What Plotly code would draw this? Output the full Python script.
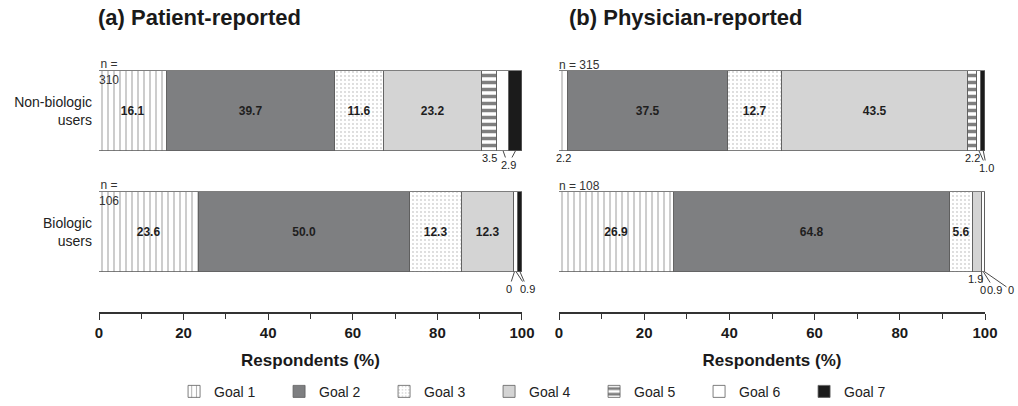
import plotly.graph_objects as go

# ---- data -------------------------------------------------------------
GOALS = ["Goal 1", "Goal 2", "Goal 3", "Goal 4", "Goal 5", "Goal 6", "Goal 7"]
GROUP_LABELS = ["Biologic<br>users", "Non-biologic<br>users"]   # y = 0, 1

PATIENT_NONBIO = [16.1, 39.7, 11.6, 23.2, 3.5, 2.9, 2.9]
PATIENT_BIO = [23.6, 50.0, 12.3, 12.3, 0.0, 0.9, 0.9]
PHYSICIAN_NONBIO = [2.2, 37.5, 12.7, 43.5, 2.2, 1.0, 1.0]
PHYSICIAN_BIO = [26.9, 64.8, 5.6, 1.9, 0.0, 0.9, 0.0]

N_PATIENT = [106, 310]      # biologic, non-biologic
N_PHYSICIAN = [108, 315]

X_TICKS = [0, 20, 40, 60, 80, 100]
PANEL_TITLES = ["(a) Patient-reported", "(b) Physician-reported"]
AXIS_TITLE = "Respondents (%)"

# ---- styling ----------------------------------------------------------
FONT = "Arial, Liberation Sans, sans-serif"
BAR_WIDTH = 0.661
INSIDE_MIN = 5.0          # smaller segments get an outside callout

GOAL_STYLE = [
    dict(color="white", pattern=dict(shape="|", fgcolor="#666666", bgcolor="white", size=6, solidity=0.22)),
    dict(color="#7e7f81"),
    dict(color="white", pattern=dict(shape=".", fgcolor="#a0a0a0", bgcolor="white", size=4, solidity=0.16)),
    dict(color="#d4d4d4"),
    dict(color="white", pattern=dict(shape="-", fgcolor="#000000", bgcolor="white", size=7, solidity=0.5)),
    dict(color="white"),
    dict(color="#1b1b1b"),
]

panels = [
    dict(x="x", y="y", rows={1: PATIENT_NONBIO, 0: PATIENT_BIO}, n=N_PATIENT),
    dict(x="x2", y="y2", rows={1: PHYSICIAN_NONBIO, 0: PHYSICIAN_BIO}, n=N_PHYSICIAN),
]

# callouts for thin segments: (goal indices sharing a label, label x in %, label offset below bar in px, xshift)
CALLOUTS = [
    {1: [((4,), None, 0, 0), ((5, 6), 96.7, 14, 0)],
     0: [((4,), 96.9, 17, 0), ((5, 6), 101.3, 17, 0)]},
    {1: [((0,), None, 0, 0), ((4,), None, 0, 0), ((5, 6), 100.4, 17, 0)],
     0: [((3,), None, 0, -2), ((4,), 99.5, 18, 0), ((5,), 102.3, 18, 0), ((6,), 106.1, 18, 0)]},
]

fig = go.Figure()
annotations = []

for p, panel in enumerate(panels):
    ys = [1, 0]
    for g, goal in enumerate(GOALS):
        vals = [panel["rows"][y][g] for y in ys]
        style = GOAL_STYLE[g]
        marker = dict(color=style["color"], line=dict(color="#5e5e5e", width=0.8))
        if "pattern" in style:
            marker["pattern"] = style["pattern"]
        fig.add_trace(go.Bar(
            x=vals, y=ys, orientation="h", name=goal, width=BAR_WIDTH,
            marker=marker, xaxis=panel["x"], yaxis=panel["y"],
            legendgroup=goal, showlegend=(p == 0),
            text=[f"{v:.1f}" if v >= INSIDE_MIN else "" for v in vals],
            textposition="inside", insidetextanchor="middle", textangle=0,
            textfont=dict(family=FONT, size=12, color="#1e1e1e", weight="bold"),
            cliponaxis=True, hoverinfo="skip",
        ))

    # outside callouts for thin segments; segments sharing a label get one leader each,
    # with the label text drawn only once
    for y, items in CALLOUTS[p].items():
        vals = panel["rows"][y]
        starts = [sum(vals[:i]) for i in range(len(vals))]
        bottom = y - BAR_WIDTH / 2
        for goals, lx, dy, xs in items:
            label = f"{vals[goals[0]]:.1f}" if vals[goals[0]] > 0 else "0"
            for k, g in enumerate(goals):
                cx = min(starts[g] + vals[g] / 2, 100)
                if lx is None:
                    annotations.append(dict(
                        x=cx, y=bottom, xref=panel["x"], yref=panel["y"], text=label,
                        showarrow=False, yanchor="top", xshift=xs, yshift=1,
                        font=dict(family=FONT, size=11, color="#222")))
                else:
                    annotations.append(dict(
                        x=cx, y=bottom, xref=panel["x"], yref=panel["y"], text=label,
                        showarrow=True, arrowhead=0, arrowwidth=0.9, arrowcolor="#333",
                        axref=panel["x"], ax=lx, ayref="pixel", ay=dy, standoff=0,
                        font=dict(family=FONT, size=11,
                                  color="#222" if k == 0 else "rgba(0,0,0,0)")))

    # sample sizes
    for y, n in zip([0, 1], panel["n"]):
        top = y + BAR_WIDTH / 2
        if p == 0:
            annotations.append(dict(
                x=0, y=top, xref=panel["x"], yref=panel["y"], text=f"n =<br>{n}",
                showarrow=False, xanchor="left", yanchor="middle", align="center", xshift=-2,
                yshift=-1, font=dict(family=FONT, size=12, color="#333")))
        else:
            annotations.append(dict(
                x=0, y=top, xref=panel["x"], yref=panel["y"], text=f"n = {n}",
                showarrow=False, xanchor="left", yanchor="bottom", xshift=-2, yshift=-3,
                font=dict(family=FONT, size=12, color="#333")))

# panel titles
for title, px in zip(PANEL_TITLES, [-0.003, 0.528]):
    annotations.append(dict(
        x=px, y=1.046, xref="paper", yref="paper", text=f"<b>{title}</b>",
        showarrow=False, xanchor="left", yanchor="middle",
        font=dict(family=FONT, size=22, color="#1a1a1a")))

xaxis_common = dict(
    range=[0, 100], tickvals=X_TICKS, ticks="outside", ticklen=6, tickwidth=1.3,
    tickcolor="#333", showline=True, linecolor="#333", linewidth=1.5,
    showgrid=False, zeroline=False, fixedrange=True,
    minor=dict(dtick=10, ticks="outside", ticklen=5, tickcolor="#333", tickwidth=1.3, showgrid=False),
    tickfont=dict(family=FONT, size=15, color="#1a1a1a", weight="bold"),
    title=dict(text=AXIS_TITLE, standoff=14,
               font=dict(family=FONT, size=17, color="#1a1a1a", weight="bold")),
)
yaxis_common = dict(range=[-0.661, 1.669], showgrid=False, zeroline=False, showline=False,
                    fixedrange=True)

fig.update_layout(
    width=1018, height=406, autosize=False,
    margin=dict(l=99, r=33, t=30, b=94, autoexpand=False),
    paper_bgcolor="white", plot_bgcolor="white",
    barmode="stack", bargap=0,
    font=dict(family=FONT, size=13, color="#222"),
    xaxis=dict(domain=[0, 0.4774], anchor="y", **xaxis_common),
    xaxis2=dict(domain=[0.5192, 1], anchor="y2", **xaxis_common),
    yaxis=dict(domain=[0, 1], anchor="x", tickvals=[0, 1], ticktext=GROUP_LABELS,
               ticks="", ticklabelstandoff=6,
               tickfont=dict(family=FONT, size=14, color="#222"), **yaxis_common),
    yaxis2=dict(domain=[0, 1], anchor="x2", showticklabels=False, **yaxis_common),
    annotations=annotations,
    uniformtext=dict(minsize=12, mode="show"),
    legend=dict(orientation="h", xref="container", yref="container",
                x=0.171, xanchor="left", y=0.035, yanchor="middle",
                entrywidth=60, entrywidthmode="pixels", traceorder="normal",
                font=dict(family=FONT, size=14, color="#222")),
)

fig.write_html("out.html")
